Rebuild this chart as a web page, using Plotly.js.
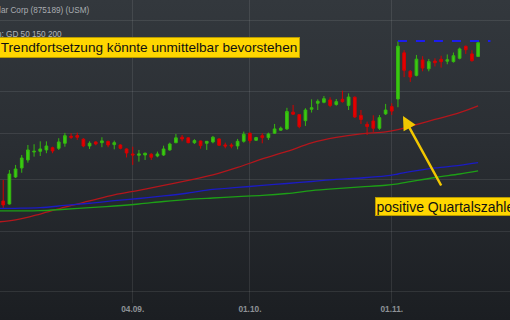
<!DOCTYPE html>
<html>
<head>
<meta charset="utf-8">
<script src="https://cdn.plot.ly/plotly-3.0.1.min.js"></script>
<style>
html,body{margin:0;padding:0;width:510px;height:320px;overflow:hidden;background:linear-gradient(180deg,#33383d 0%,#2a2e33 45%,#1b1e22 100%);}
#chart{width:510px;height:320px;}
</style>
</head>
<body>
<div id="chart"></div>
<script>
const dates = ['2018-08-01','2018-08-02','2018-08-03','2018-08-06','2018-08-07','2018-08-08','2018-08-09','2018-08-10','2018-08-13','2018-08-14','2018-08-15','2018-08-16','2018-08-17','2018-08-20','2018-08-21','2018-08-22','2018-08-23','2018-08-24','2018-08-27','2018-08-28','2018-08-29','2018-08-30','2018-08-31',
'2018-09-04','2018-09-05','2018-09-06','2018-09-07','2018-09-10','2018-09-11','2018-09-12','2018-09-13','2018-09-14','2018-09-17','2018-09-18','2018-09-19','2018-09-20','2018-09-21','2018-09-24','2018-09-25','2018-09-26','2018-09-27','2018-09-28',
'2018-10-01','2018-10-02','2018-10-03','2018-10-04','2018-10-05','2018-10-08','2018-10-09','2018-10-10','2018-10-11','2018-10-12','2018-10-15','2018-10-16','2018-10-17','2018-10-18','2018-10-19','2018-10-22','2018-10-23','2018-10-24','2018-10-25','2018-10-26','2018-10-29','2018-10-30','2018-10-31',
'2018-11-01','2018-11-02','2018-11-05','2018-11-06','2018-11-07','2018-11-08','2018-11-09','2018-11-12','2018-11-13','2018-11-14','2018-11-15','2018-11-16','2018-11-19','2018-11-20','2018-11-21'];
const extraDates = ['2018-11-23','2018-11-26'];

const open  = [38.20,37.90,37.85,37.56,40.24,41.18,42.03,42.90,42.97,43.12,43.37,43.30,43.86,44.65,44.74,44.32,43.56,44.01,43.93,44.07,43.71,43.67,43.23,
42.68,42.54,42.57,42.65,42.46,42.57,43.12,43.93,44.54,44.47,43.93,44.12,43.86,44.01,44.35,43.67,43.67,43.56,44.08,
45.00,44.20,44.72,44.50,45.00,45.35,45.50,47.49,47.19,46.47,47.84,48.58,48.70,48.99,48.43,49.07,48.31,49.34,47.10,46.04,46.43,45.57,47.28,
48.17,49.11,55.26,52.71,52.16,54.26,53.05,54.12,54.35,54.09,54.03,54.49,56.19,55.11,54.75];
const high  = [38.60,38.40,39.94,40.97,41.50,42.57,43.67,43.75,44.08,44.08,43.48,44.43,45.04,45.00,45.07,44.43,44.08,44.08,44.54,44.16,44.16,43.75,43.30,
43.48,43.12,42.83,42.76,42.94,43.59,43.93,44.92,44.80,44.54,44.32,44.16,44.08,44.69,44.43,43.93,43.86,44.35,45.19,
45.07,44.58,45.00,45.07,46.08,45.77,48.02,48.37,47.24,47.97,49.07,49.07,49.49,49.33,49.11,50.17,49.82,49.43,47.75,46.35,47.11,47.15,48.50,
48.58,56.91,55.63,52.89,54.96,54.78,54.40,54.49,54.85,55.03,55.30,56.00,56.29,55.63,57.10];
const low   = [37.60,37.50,37.09,37.50,40.14,40.68,41.74,42.39,42.46,42.76,42.76,43.12,43.48,44.35,44.24,43.42,43.23,43.64,43.42,43.42,43.19,43.19,42.30,
41.50,41.85,42.03,42.03,42.32,42.46,43.04,43.86,44.08,43.86,43.78,43.26,43.12,43.86,43.56,43.30,43.30,43.19,43.93,
43.86,44.13,43.86,44.24,44.92,45.27,45.38,47.15,45.58,45.85,47.44,47.75,48.58,48.09,48.28,48.66,47.75,46.79,46.08,44.80,45.15,45.38,47.15,
47.15,48.09,51.93,51.30,52.03,52.71,52.71,53.37,53.21,53.67,53.90,54.35,55.11,54.03,54.66];
const close = [37.90,38.10,37.47,40.55,41.07,42.24,43.12,42.97,43.23,43.56,43.01,44.01,44.72,44.54,44.54,43.56,43.86,43.78,44.13,43.67,43.93,43.30,42.79,
42.57,42.68,42.76,42.32,42.68,43.23,43.78,44.47,44.35,43.93,44.16,43.60,44.08,44.54,43.64,43.56,43.56,44.08,44.88,
44.16,44.50,44.50,44.92,45.50,45.58,47.56,47.24,45.77,47.75,48.03,48.83,49.15,48.31,48.78,48.78,49.36,46.91,46.61,45.77,45.58,46.83,47.75,
47.62,56.19,52.85,51.95,54.37,53.15,54.03,53.88,54.03,54.29,54.85,55.81,55.70,54.17,56.70];

const maDates = ['2018-08-01','2018-08-07','2018-08-13','2018-08-17','2018-08-23','2018-08-29','2018-09-05','2018-09-11','2018-09-17','2018-09-21','2018-09-27','2018-10-03','2018-10-09','2018-10-15','2018-10-19','2018-10-25','2018-10-31','2018-11-02','2018-11-06','2018-11-12','2018-11-16','2018-11-21'];
const gd50  = [35.83,36.06,36.61,37.27,37.85,38.44,38.90,39.38,39.89,40.45,41.23,42.14,42.95,43.90,44.52,44.92,45.15,45.41,45.81,46.61,47.43,48.25];
const gd150 = [37.13,37.15,37.21,37.42,37.63,37.88,38.09,38.34,38.63,38.98,39.18,39.38,39.58,39.78,39.99,40.14,40.35,40.55,40.79,41.18,41.46,41.74];
const gd200 = [36.90,36.90,36.92,37.06,37.21,37.37,37.56,37.80,38.00,38.14,38.27,38.39,38.58,38.86,39.06,39.23,39.40,39.55,39.76,40.19,40.55,40.87];

const resistDates = ['2018-11-02','2018-11-23','2018-11-26'];
const resistLevel = 56.95;

const tickDates = ['2018-08-01','2018-09-04','2018-10-01','2018-11-01'];
const tickLabels = ['01.08.','04.09.','01.10.','01.11.'];
const priceGrid = [30,35,40,45,50,60];

const titleText = 'United States Cellular Corp (875189) (USM)';
const indicatorText = 'Indikatoren: GD 50 150 200';
const note1 = 'Trendfortsetzung könnte unmittelbar bevorstehen';
const note2 = 'positive Quartalszahlen';

const traces = [
  {type:'candlestick', x:dates, open:open, high:high, low:low, close:close,
   increasing:{line:{color:'#34b80f',width:1}, fillcolor:'#3acb12'},
   decreasing:{line:{color:'#d40000',width:1}, fillcolor:'#e50000'},
   whiskerwidth:0, hoverinfo:'skip', showlegend:false},
  {type:'scatter', mode:'lines', x:maDates, y:gd50, line:{color:'#b3161c',width:1.3,shape:'spline'}, showlegend:false, hoverinfo:'skip'},
  {type:'scatter', mode:'lines', x:maDates, y:gd150, line:{color:'#1b1bc4',width:1.3,shape:'spline'}, showlegend:false, hoverinfo:'skip'},
  {type:'scatter', mode:'lines', x:maDates, y:gd200, line:{color:'#1d9f16',width:1.3,shape:'spline'}, showlegend:false, hoverinfo:'skip'},
  {type:'scatter', mode:'lines', x:resistDates, y:resistDates.map(()=>resistLevel), line:{color:'#1c1cf0',width:2,dash:'dash'}, showlegend:false, hoverinfo:'skip'}
];

const H = 303;
const layout = {
  width:510, height:320,
  margin:{l:0,r:0,t:0,b:17},
  paper_bgcolor:'rgba(0,0,0,0)', plot_bgcolor:'rgba(0,0,0,0)',
  font:{family:'Liberation Sans, Arial, sans-serif'},
  boxgap:0.38,
  xaxis:{type:'category', categoryorder:'array', categoryarray:dates.concat(extraDates),
    range:[1.476, 84.17], rangeslider:{visible:false},
    tickvals:tickDates, ticktext:tickLabels, ticks:'', showgrid:true, gridcolor:'rgba(255,255,255,0.09)', gridwidth:1,
    tickfont:{size:8.3,color:'#8e9296',weight:'bold'}, showline:false, zeroline:false, fixedrange:true},
  yaxis:{type:'log', range:[1.4649,1.8010], tickvals:priceGrid, showticklabels:false, ticks:'',
    showgrid:true, gridcolor:'rgba(255,255,255,0.09)', gridwidth:1, zeroline:false, showline:false, fixedrange:true},
  annotations:[
    {xref:'paper', yref:'paper', x:91/510, y:1-11/H, xanchor:'right', yanchor:'middle', text:titleText, showarrow:false,
     font:{size:8.2,color:'#a9adb1'}},
    {xref:'paper', yref:'paper', x:64/510, y:1-34/H, xanchor:'right', yanchor:'middle', text:indicatorText, showarrow:false,
     font:{size:8.2,color:'#b3b6ba'}},
    {xref:'paper', yref:'paper', x:300/510, y:1-47.5/H, xanchor:'right', yanchor:'middle', text:note1, showarrow:false,
     font:{size:13.6,color:'#111111'}, bgcolor:'#ffd600', bordercolor:'#b89b00', borderwidth:1, borderpad:1.8},
    {xref:'paper', yref:'paper', x:375/510, y:1-206/H, xanchor:'left', yanchor:'middle', text:note2, showarrow:false,
     font:{size:14,color:'#111111'}, bgcolor:'#ffd600', bordercolor:'#b89b00', borderwidth:1, borderpad:0.5},
    {xref:'paper', yref:'paper', x:403/510, y:1-116/H, text:'', showarrow:true, ax:39, ay:71,
     arrowcolor:'#f2c700', arrowwidth:2.5, arrowhead:2, arrowsize:1.1, standoff:0}
  ]
};
Plotly.newPlot('chart', traces, layout, {staticPlot:true, displayModeBar:false});
</script>
</body>
</html>
